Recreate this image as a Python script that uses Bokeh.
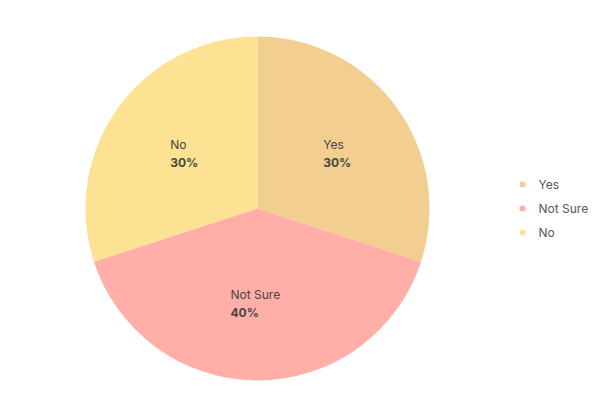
import math
from bokeh.plotting import figure
from bokeh.models import ColumnDataSource, Range1d
from bokeh.core.properties import value
from bokeh.embed import file_html
from bokeh.resources import INLINE

categories = ["Yes", "Not Sure", "No"]
percents = [30, 40, 30]
colors = ["#F2CE91", "#FFAEA8", "#FEE293"]

W, H = 592, 392
CX, CY, R = 257, 184, 172
FONT = "Inter"

p = figure(width=W, height=H, output_backend="svg", toolbar_location=None,
           x_range=Range1d(0, W), y_range=Range1d(0, H), min_border=0,
           outline_line_color=None)
p.axis.visible = False
p.grid.visible = False

total = sum(percents)
starts, ends, lx, ly = [], [], [], []
a = math.pi / 2
for v in percents:
    sweep = 2 * math.pi * v / total
    starts.append(a)
    ends.append(a - sweep)
    mid = a - sweep / 2
    lx.append(CX + 0.55 * R * math.cos(mid))
    ly.append(CY + 0.55 * R * math.sin(mid))
    a -= sweep

src = ColumnDataSource(dict(x=[CX] * 3, y=[CY] * 3, start=starts, end=ends,
                            color=colors, cat=categories,
                            pct=[f"{v}%" for v in percents], lx=lx, ly=ly,
                            xoff=[-6.5 * max(len(c), 3) / 2 - 1 for c in categories]))
p.wedge(x="x", y="y", radius=R, start_angle="start", end_angle="end",
        direction="clock", fill_color="color", line_color=None, source=src)

p.text(x="lx", y="ly", text="cat", x_offset="xoff", y_offset=-1,
       text_align="left", text_baseline="bottom", text_font=value(FONT),
       text_font_size="12px", text_color="#464646", source=src)
p.text(x="lx", y="ly", text="pct", x_offset="xoff", y_offset=2,
       text_align="left", text_baseline="top", text_font=value(FONT),
       text_font_size="12px", text_font_style="bold", text_color="#464646", source=src)

# legend drawn manually: markers + labels, rows 24px apart centred on pie
n = len(categories)
leg_y = [CY + 24 * ((n - 1) / 2 - i) for i in range(n)]
leg = ColumnDataSource(dict(mx=[522] * n, tx=[538] * n, y=leg_y,
                            color=colors, cat=categories))
p.scatter(x="mx", y="y", marker="circle", size=6, fill_color="color",
          line_color=None, source=leg)
p.text(x="tx", y="y", text="cat", text_align="left", text_baseline="middle",
       text_font=value(FONT), text_font_size="12px", text_color="#555555",
       source=leg)

open("out.html", "w").write(file_html(p, INLINE))
